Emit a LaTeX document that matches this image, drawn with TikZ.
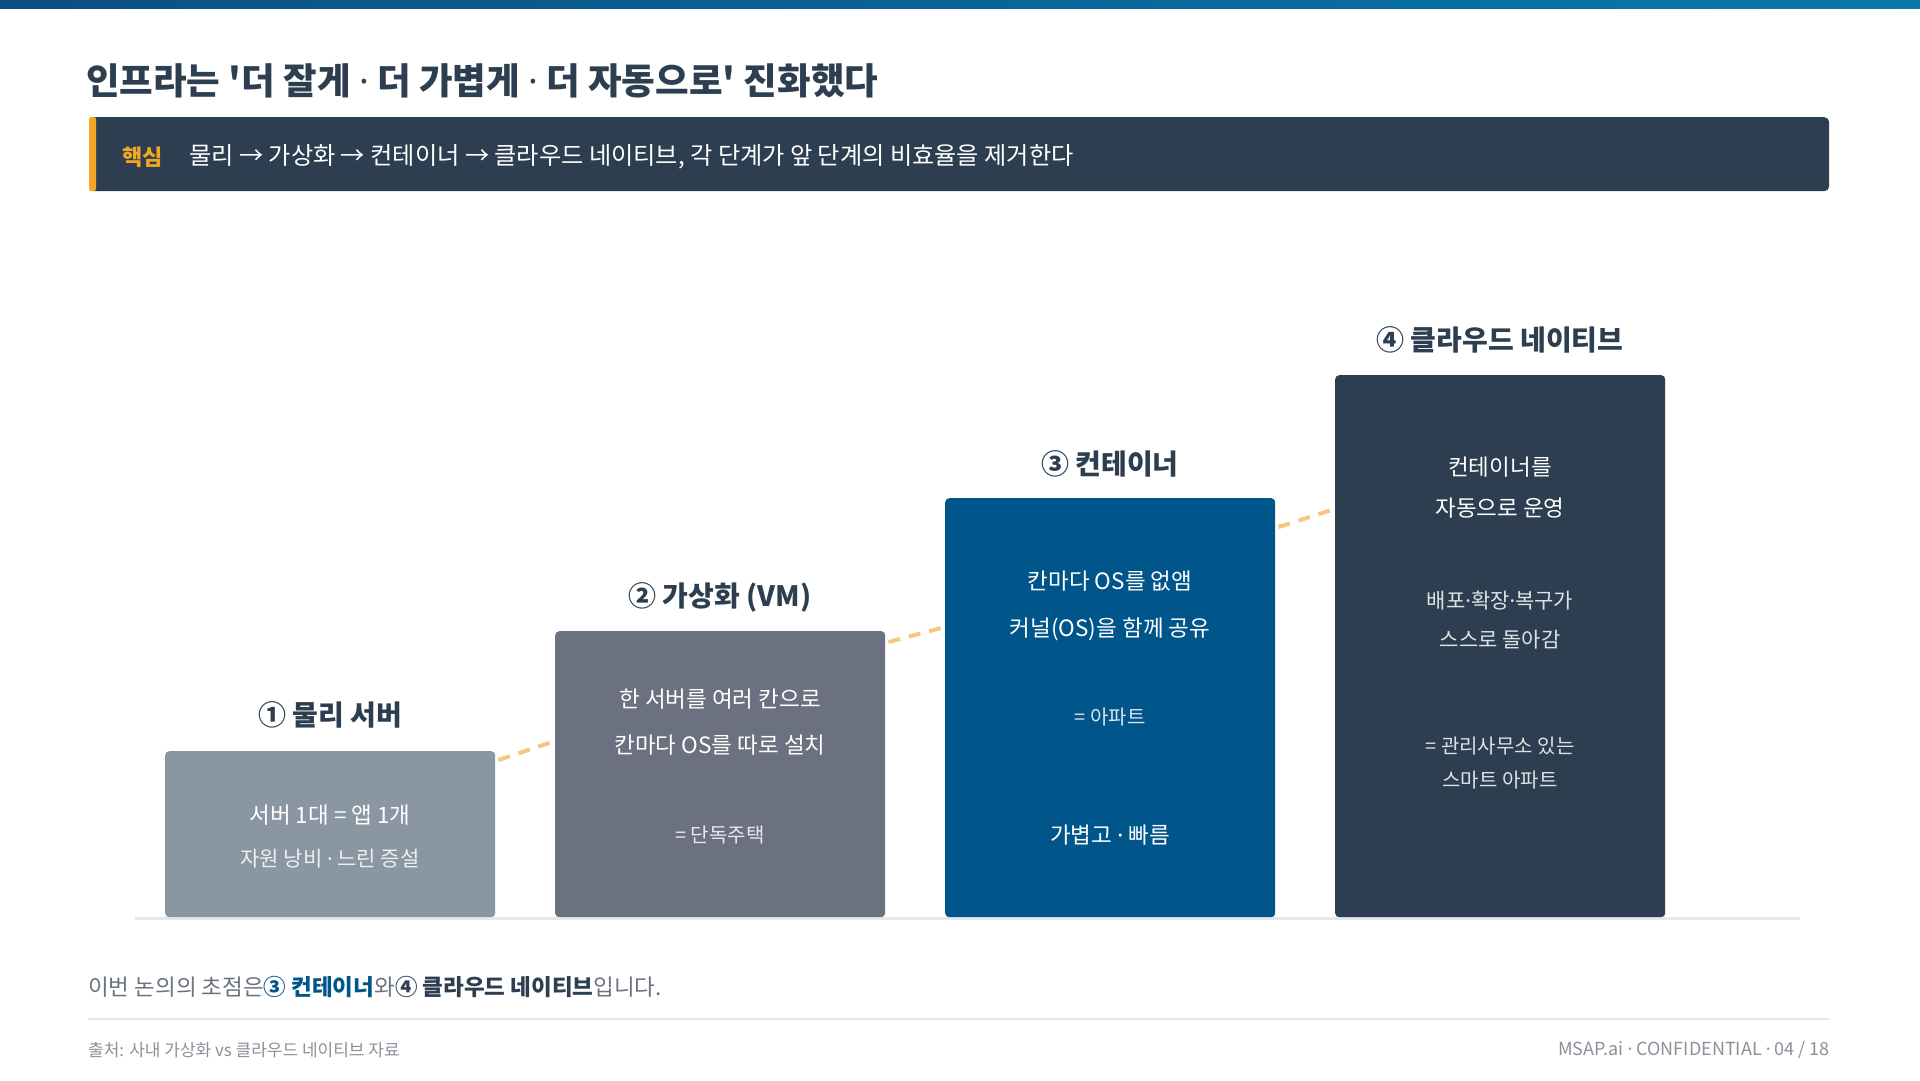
\documentclass[tikz,border=0pt]{standalone}
\usepackage{fontspec}
\setmainfont{Noto Sans CJK KR}
\newfontfamily\krplain{Noto Sans CJK KR}
\newfontfamily\ltnf{Noto Sans}
\newcommand\mdot{{\ltnf ·}}
\newcommand\sq{{\krplain '}}
\newcommand\fsz[1]{\fontsize{#1}{#1}\selectfont}
\definecolor{navy}{HTML}{2C3E50}
\definecolor{bluethree}{HTML}{00558A}
\definecolor{grayone}{HTML}{8A96A2}
\definecolor{graytwo}{HTML}{6B7180}
\definecolor{accent}{HTML}{F2A623}
\definecolor{dashc}{HTML}{F7C77F}
\definecolor{rulec}{HTML}{E6E8EB}
\definecolor{muted}{HTML}{6B7280}
\definecolor{footc}{HTML}{8C9199}
\definecolor{barleft}{HTML}{0B4F84}
\definecolor{barright}{HTML}{0A78AA}
\tikzset{
  stagebox/.style={rounded corners=4pt, draw=none, minimum width=330pt, anchor=north west, inner sep=0pt},
  stagetitle/.style={font=\bfseries\fsz{28}, text=navy, inner sep=0pt},
  boxtext/.style={font=\fsz{22.5}, text=white, inner sep=0pt},
  boxsub/.style={font=\fsz{21}, text=white, text opacity=0.85, inner sep=0pt},
  boxeq/.style={font=\fsz{20}, text=white, text opacity=0.85, inner sep=0pt},
  link/.style={draw=dashc, line width=4pt, dash pattern=on 12pt off 9pt},
  plain/.style={inner sep=0pt, anchor=west}
}
\begin{document}
\begin{tikzpicture}[x=1pt,y=-1pt]
\useasboundingbox (0,0) rectangle (1920,1080);
\fill[white] (0,0) rectangle (1920,1080);
% top bar
\shade[left color=barleft, right color=barright] (0,0) rectangle (1920,8);
% title
\node[plain, font=\bfseries\fsz{36.5}, text=navy] (title) at (86,81) {인프라는 \sq 더 잘게 \mdot{} 더 가볍게 \mdot{} 더 자동으로\sq{} 진화했다};
% banner
\node[fill=navy, rounded corners=5pt, minimum width=1740pt, minimum height=74pt, anchor=north west, inner sep=0pt] (banner) at (89,117) {};
\fill[accent, rounded corners=2pt] (89,117) rectangle (96,191);
\node[plain, font=\bfseries\fsz{22}, text=accent] (key) at (122,157) {핵심};
\node[plain, font=\fsz{24.2}, text=white] (keytext) at (189,157) {물리 → 가상화 → 컨테이너 → 클라우드 네이티브, 각 단계가 앞 단계의 비효율을 제거한다};
% baseline
\draw[rulec, line width=3pt] (135,918) -- (1800,918);
% boxes
\node[stagebox, fill=grayone, minimum height=166pt] (b1) at (165,751) {};
\node[stagebox, fill=graytwo, minimum height=286pt] (b2) at (555,631) {};
\node[stagebox, fill=bluethree, minimum height=419pt] (b3) at (945,498) {};
\node[stagebox, fill=navy, minimum height=542pt] (b4) at (1335,375) {};
% links
\draw[link] ([xshift=3pt,yshift=-9pt]b1.north east) -- ([yshift=-110pt]b2.north west);
\draw[link] ([xshift=3pt,yshift=-11pt]b2.north east) -- ([yshift=-129pt]b3.north west);
\draw[link] ([xshift=3pt,yshift=-29pt]b3.north east) -- ([yshift=-134pt]b4.north west);
% stage titles
\node[stagetitle] (t1) at (330,715) {① 물리 서버};
\node[stagetitle] (t2) at (720,597) {② 가상화 (VM)};
\node[stagetitle] (t3) at (1110,464) {③ 컨테이너};
\node[stagetitle] (t4) at (1500,340) {④ 클라우드 네이티브};
% box 1
\node[boxtext] (b1a) at (330,815) {서버 1대 = 앱 1개};
\node[boxsub] (b1b) at (330,859) {자원 낭비 \mdot{} 느린 증설};
% box 2
\node[boxtext] (b2a) at (720,699) {한 서버를 여러 칸으로};
\node[boxtext] (b2b) at (720,745) {칸마다 OS를 따로 설치};
\node[boxeq] (b2c) at (720,835) {= 단독주택};
% box 3
\node[boxtext] (b3a) at (1110,581) {칸마다 OS를 없앰};
\node[boxtext] (b3b) at (1110,629) {커널(OS)을 함께 공유};
\node[boxeq] (b3c) at (1110,717) {= 아파트};
\node[boxtext] (b3d) at (1110,835) {가볍고 \mdot{} 빠름};
% box 4
\node[boxtext] (b4a) at (1500,467) {컨테이너를};
\node[boxtext] (b4b) at (1500,508) {자동으로 운영};
\node[boxsub] (b4c) at (1500,601) {배포\mdot 확장\mdot 복구가};
\node[boxsub] (b4d) at (1500,640) {스스로 돌아감};
\node[boxeq] (b4e) at (1500,746) {= 관리사무소 있는};
\node[boxeq] (b4f) at (1500,780) {스마트 아파트};
% bottom note
\node[plain, font=\fsz{22.5}, text=muted] (note) at (88,987) {이번 논의의 초점은\textcolor{bluethree}{\bfseries ③ 컨테이너}와\textcolor{navy}{\bfseries ④ 클라우드 네이티브}입니다.};
\draw[rulec, line width=2pt] (88,1019) -- (1829,1019);
\node[plain, font=\fsz{17}, text=footc] (src) at (88,1050) {출처: 사내 가상화 vs 클라우드 네이티브 자료};
\node[inner sep=0pt, anchor=east, font=\fsz{18}, text=footc] (conf) at (1830,1050) {MSAP.ai \mdot{} CONFIDENTIAL \mdot{} 04 / 18};
\end{tikzpicture}
\end{document}
